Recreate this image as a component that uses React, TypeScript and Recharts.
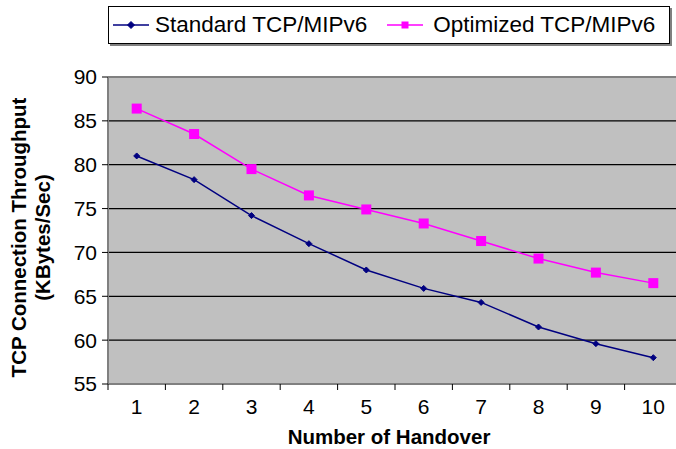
import { LineChart, Line, XAxis, YAxis, CartesianGrid, ReferenceLine, Label } from "recharts";

// handover count on the x axis
const handovers = [1, 2, 3, 4, 5, 6, 7, 8, 9, 10];
// throughput in KBytes/Sec
const standard = [81.0, 78.3, 74.2, 71.0, 68.0, 65.9, 64.3, 61.5, 59.6, 58.0];
const optimized = [86.4, 83.5, 79.5, 76.5, 74.9, 73.3, 71.3, 69.3, 67.7, 66.5];

const yTicks = [55, 60, 65, 70, 75, 80, 85, 90];
// tick marks sit on the category boundaries, labels in between
const xTicks = [0.5, 1.5, 2.5, 3.5, 4.5, 5.5, 6.5, 7.5, 8.5, 9.5, 10.5];

const CHART_W = 690;
const CHART_H = 449;
const MARGIN = { top: 77, right: 8, bottom: 0, left: 0 };
const Y_AXIS_W = 108;
const X_AXIS_H = 65;
const HALF_STEP = (CHART_W - MARGIN.right - MARGIN.left - Y_AXIS_W) / handovers.length / 2;

const FONT = "'Liberation Sans', Arial, sans-serif";
const NAVY = "#000080";
const MAGENTA = "#ff00ff";
const TICK_FONT = 21;
const TITLE_FONT = 20.5;

const data = handovers.map((n, i) => ({
  n,
  standard: standard[i],
  optimized: optimized[i],
}));

function Diamond({ cx, cy, r = 5 }: { cx?: number; cy?: number; r?: number }) {
  if (cx == null || cy == null) return null;
  return (
    <path
      d={`M${cx},${cy - r} L${cx + r},${cy} L${cx},${cy + r} L${cx - r},${cy} Z`}
      fill={NAVY}
      stroke={NAVY}
    />
  );
}

function Square({ cx, cy, s = 10 }: { cx?: number; cy?: number; s?: number }) {
  if (cx == null || cy == null) return null;
  return <rect x={cx - s / 2} y={cy - s / 2} width={s} height={s} fill={MAGENTA} />;
}

function XTick(props: any) {
  const { x, y, payload } = props;
  const label = payload.value + 0.5;
  if (label > handovers[handovers.length - 1]) return null;
  return (
    <text x={x + HALF_STEP} y={y} dy={22} textAnchor="middle" fontSize={TICK_FONT} fill="#000" fontFamily={FONT}>
      {label}
    </text>
  );
}

function YTitle(props: any) {
  const { viewBox } = props;
  const cy = viewBox.y + viewBox.height / 2 + 7;
  return (
    <g fontFamily={FONT} fontSize={TITLE_FONT} fontWeight="bold" fill="#000">
      <text x={18} y={cy} transform={`rotate(-90, 18, ${cy})`} textAnchor="middle" dominantBaseline="central">
        TCP Connection Throughput
      </text>
      <text x={42} y={cy} transform={`rotate(-90, 42, ${cy})`} textAnchor="middle" dominantBaseline="central">
        (KBytes/Sec)
      </text>
    </g>
  );
}

const styles: Record<string, React.CSSProperties> = {
  page: {
    position: "absolute",
    left: 0,
    top: 0,
    width: 676,
    height: 449,
    overflow: "hidden",
    background: "#fff",
    fontFamily: FONT,
  },
  legend: {
    position: "absolute",
    left: 108,
    top: 6,
    width: 560,
    height: 36,
    border: "1px solid #000",
    boxShadow: "2px 2px 0 #808080",
    background: "#fff",
    display: "flex",
    alignItems: "center",
    fontSize: 22.5,
    color: "#000",
    zIndex: 2,
  },
  item: {
    display: "flex",
    alignItems: "center",
  },
};

function LegendBox() {
  return (
    <div style={styles.legend}>
      <div style={{ ...styles.item, marginLeft: 4 }}>
        <svg width={36} height={12}>
          <line x1={0} y1={6} x2={36} y2={6} stroke={NAVY} strokeWidth={1.5} />
          <Diamond cx={18} cy={6} r={3.5} />
        </svg>
        <span style={{ marginLeft: 6 }}>Standard TCP/MIPv6</span>
      </div>
      <div style={{ ...styles.item, marginLeft: 20 }}>
        <svg width={36} height={12}>
          <line x1={0} y1={6} x2={36} y2={6} stroke={MAGENTA} strokeWidth={1.5} />
          <Square cx={18} cy={6} s={7} />
        </svg>
        <span style={{ marginLeft: 10 }}>Optimized TCP/MIPv6</span>
      </div>
    </div>
  );
}

export default function App() {
  return (
    <div style={styles.page}>
      <LegendBox />
      <LineChart width={CHART_W} height={CHART_H} data={data} margin={MARGIN}>
        <CartesianGrid vertical={false} stroke="#000" strokeWidth={1.2} fill="#c0c0c0" />
        <XAxis
          dataKey="n"
          type="number"
          domain={[0.5, 10.5]}
          ticks={xTicks}
          interval={0}
          height={X_AXIS_H}
          tickSize={6}
          tickLine={{ stroke: "#000" }}
          axisLine={{ stroke: "#808080", strokeWidth: 2 }}
          tick={<XTick />}
        >
          <Label
            value="Number of Handover"
            position="insideBottom"
            offset={5}
            dx={-6}
            style={{ fontFamily: FONT, fontSize: TITLE_FONT, fontWeight: "bold", fill: "#000" }}
          />
        </XAxis>
        <YAxis
          domain={[55, 90]}
          ticks={yTicks}
          interval={0}
          width={Y_AXIS_W}
          tickSize={6}
          tickMargin={5}
          tickLine={{ stroke: "#000" }}
          axisLine={{ stroke: "#808080", strokeWidth: 2 }}
          tick={{ fontSize: TICK_FONT, fill: "#000", fontFamily: FONT }}
        >
          <Label content={<YTitle />} />
        </YAxis>
        <ReferenceLine y={90} stroke="#808080" strokeWidth={2} />
        <Line
          dataKey="standard"
          stroke={NAVY}
          strokeWidth={1.5}
          dot={<Diamond />}
          activeDot={false}
          isAnimationActive={false}
        />
        <Line
          dataKey="optimized"
          stroke={MAGENTA}
          strokeWidth={1.5}
          dot={<Square />}
          activeDot={false}
          isAnimationActive={false}
        />
      </LineChart>
    </div>
  );
}
